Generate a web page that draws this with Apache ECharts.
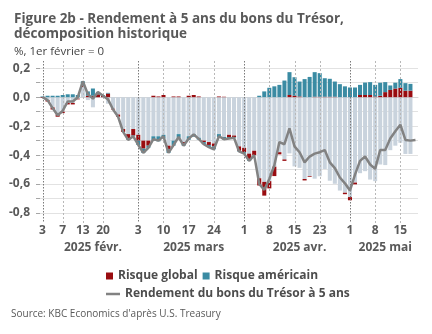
<!DOCTYPE html>
<html>
<head>
<meta charset="utf-8">
<script src="https://cdn.jsdelivr.net/npm/echarts@6/dist/echarts.min.js"></script>
<style>
  html, body { margin: 0; padding: 0; background: #fff; }
  #chart { width: 432px; height: 334px; }
</style>
</head>
<body>
<div id="chart"></div>
<script>
// Trading days (US Treasury market) from 3 Feb to 20 May 2025
const dates = [
  '2025-02-03','2025-02-04','2025-02-05','2025-02-06','2025-02-07',
  '2025-02-10','2025-02-11','2025-02-12','2025-02-13','2025-02-14',
  '2025-02-18','2025-02-19','2025-02-20','2025-02-21',
  '2025-02-24','2025-02-25','2025-02-26','2025-02-27','2025-02-28',
  '2025-03-03','2025-03-04','2025-03-05','2025-03-06','2025-03-07',
  '2025-03-10','2025-03-11','2025-03-12','2025-03-13','2025-03-14',
  '2025-03-17','2025-03-18','2025-03-19','2025-03-20','2025-03-21',
  '2025-03-24','2025-03-25','2025-03-26','2025-03-27','2025-03-28',
  '2025-03-31','2025-04-01','2025-04-02','2025-04-03','2025-04-04',
  '2025-04-07','2025-04-08','2025-04-09','2025-04-10','2025-04-11',
  '2025-04-14','2025-04-15','2025-04-16','2025-04-17',
  '2025-04-21','2025-04-22','2025-04-23','2025-04-24','2025-04-25',
  '2025-04-28','2025-04-29','2025-04-30','2025-05-01','2025-05-02',
  '2025-05-05','2025-05-06','2025-05-07','2025-05-08','2025-05-09',
  '2025-05-12','2025-05-13','2025-05-14','2025-05-15','2025-05-16',
  '2025-05-19','2025-05-20'
];

// Other factors (unlabelled light bars), % points
const autres = [
  0, -0.02, -0.07, -0.12, -0.10, -0.04, -0.04, -0.01, 0.07, -0.02,
  -0.07, 0.0, -0.005, -0.045, -0.08, -0.12, -0.22, -0.255, -0.22,
  -0.26, -0.30, -0.30, -0.27, -0.27, -0.26, -0.335, -0.30, -0.255, -0.31,
  -0.27, -0.255, -0.28, -0.30, -0.31, -0.32, -0.255, -0.275, -0.26, -0.265,
  -0.34, -0.35, -0.39, -0.37, -0.56, -0.585, -0.58, -0.48, -0.38, -0.43,
  -0.388, -0.478, -0.488, -0.565, -0.545, -0.563, -0.546, -0.496, -0.577,
  -0.598, -0.645, -0.66, -0.69, -0.59, -0.525, -0.511, -0.569, -0.58,
  -0.465, -0.469, -0.366, -0.335, -0.315, -0.392, -0.392, null
];

// Global risk component
const risqueGlobal = [
  -0.005, -0.01, -0.015, -0.015, -0.01, -0.01, -0.01, -0.005, 0.015, 0.01,
  0.01, 0.02, 0.01, 0.025, -0.005, -0.015, -0.02, -0.035, -0.045,
  -0.04, -0.055, -0.035, 0.01, 0.005, 0.015, -0.025, 0.005, 0.005, -0.01,
  0.01, 0.015, 0.005, -0.01, -0.02, -0.02, 0.005, 0.003, -0.015, -0.01,
  -0.03, -0.03, -0.04, -0.03, -0.05, -0.095, -0.05, -0.065, -0.015, -0.01,
  0.015, 0.01, 0.005, -0.01, -0.005, 0.003, 0.003, 0.003, 0.003,
  0.003, 0.0, -0.01, -0.022, -0.012, 0.015, 0.015, 0.015, 0.005,
  0.01, 0.035, 0.05, 0.06, 0.065, 0.045, 0.045, null
];

// US-specific risk component
const risqueAmericain = [
  0.005, 0.01, 0.01, 0.01, 0.015, 0.02, 0.02, 0.015, 0.025, 0.03,
  0.05, 0.015, 0.005, 0.005, 0.0, 0.0, 0.0, -0.005, -0.005,
  -0.03, -0.03, -0.015, -0.03, -0.035, -0.025, -0.025, -0.035, -0.025, -0.015,
  -0.025, -0.018, -0.013, -0.015, -0.015, -0.02, -0.02, -0.018, -0.01, -0.005,
  -0.005, -0.01, -0.01, 0.0, 0.01, 0.04, 0.065, 0.075, 0.085, 0.115,
  0.158, 0.128, 0.103, 0.125, 0.14, 0.17, 0.163, 0.128, 0.124,
  0.105, 0.09, 0.075, 0.067, 0.067, 0.07, 0.086, 0.089, 0.08,
  0.09, 0.069, 0.031, 0.04, 0.06, 0.052, 0.047, null
];

// 5-year Treasury yield, change since 1 February
const rendement5a = [
  0.0, -0.02, -0.075, -0.125, -0.095, -0.03, -0.03, 0.0, 0.11, 0.02,
  -0.01, 0.035, 0.01, -0.015, -0.085, -0.135, -0.24, -0.295, -0.27,
  -0.33, -0.385, -0.35, -0.29, -0.30, -0.27, -0.385, -0.33, -0.275, -0.335,
  -0.285, -0.258, -0.288, -0.325, -0.345, -0.36, -0.27, -0.29, -0.285, -0.28,
  -0.375, -0.39, -0.44, -0.40, -0.60, -0.64, -0.565, -0.47, -0.31, -0.325,
  -0.215, -0.34, -0.38, -0.45, -0.41, -0.39, -0.38, -0.365, -0.45,
  -0.49, -0.555, -0.595, -0.645, -0.535, -0.44, -0.41, -0.465, -0.495,
  -0.365, -0.365, -0.285, -0.235, -0.19, -0.295, -0.30, -0.295
];

// Day ticks on the time axis, and the first trading day of each month
const dayTicks = [
  '2025-02-03','2025-02-07','2025-02-13','2025-02-20',
  '2025-03-03','2025-03-10','2025-03-17','2025-03-24',
  '2025-04-01','2025-04-08','2025-04-15','2025-04-23',
  '2025-05-01','2025-05-08','2025-05-15'
];
const monthStarts = ['2025-02-03','2025-03-03','2025-04-01','2025-05-01'];

// Month captions and the day each one is centred on
const monthNames = ['2025 févr.', '2025 mars', '2025 avr.', '2025 mai'];
const monthCentres = ['2025-02-18', '2025-03-18', '2025-04-16', '2025-05-12'];

const yTicks = [-0.8, -0.7, -0.6, -0.5, -0.4, -0.3, -0.2, -0.1, 0, 0.1, 0.2];
const yLabels = [-0.8, -0.6, -0.4, -0.2, 0, 0.2];

const FONT = 'Open Sans';
const TEXT = '#595959';

const chart = echarts.init(document.getElementById('chart'), null, { renderer: 'canvas' });

const gridColors = yTicks.map(() => '#e2e2e2').concat(['rgba(0,0,0,0)']);

// Day rules: one vertical rule per labelled day, positioned through the
// category axis and running from the top of the plot down past the x axis
const ruleData = dayTicks.map(d => [d, monthStarts.includes(d) ? 1 : 0]);

chart.setOption({
  animation: false,
  textStyle: { fontFamily: FONT },
  title: {
    text: 'Figure 2b - Rendement à 5 ans du bons du Trésor,\ndécomposition historique',
    subtext: '%, 1er février = 0',
    left: 9,
    top: 7,
    itemGap: 3,
    textStyle: { fontFamily: FONT, fontSize: 13.5, fontWeight: 'bold', color: TEXT, lineHeight: 15 },
    subtextStyle: { fontFamily: FONT, fontSize: 11.5, color: '#444', lineHeight: 14 }
  },
  legend: [
    {
      data: ['Risque global', 'Risque américain'],
      left: 101, top: 265,
      icon: 'rect', itemWidth: 7, itemHeight: 7, itemGap: 5,
      selectedMode: false,
      textStyle: { fontFamily: FONT, fontSize: 12, fontWeight: 'bold', color: '#4d4d4d' }
    },
    {
      data: ['Rendement du bons du Trésor à 5 ans'],
      left: 101, top: 283,
      icon: 'rect', itemWidth: 14, itemHeight: 2.5,
      selectedMode: false,
      textStyle: { fontFamily: FONT, fontSize: 12, fontWeight: 'bold', color: '#4d4d4d' }
    }
  ],
  grid: { left: 40, right: 14, top: 61, bottom: 121, containLabel: false },
  xAxis: [
    {
      type: 'category',
      data: dates,
      boundaryGap: true,
      axisLine: { show: true, lineStyle: { color: '#d6d6d6', width: 1 } },
      axisTick: { show: false },
      axisLabel: {
        interval: (i, v) => dayTicks.includes(v),
        formatter: v => String(parseInt(v.slice(8), 10)),
        margin: 12,
        fontFamily: FONT, fontSize: 12, fontWeight: 'bold', color: TEXT
      },
      splitLine: { show: false }
    },
    {
      type: 'category',
      data: dates,
      boundaryGap: true,
      position: 'bottom',
      axisLine: { show: false },
      axisTick: { show: false },
      splitLine: { show: false },
      axisLabel: {
        interval: (i, v) => monthCentres.includes(v),
        formatter: v => monthNames[monthCentres.indexOf(v)] || '',
        margin: 29,
        fontFamily: FONT, fontSize: 12, fontWeight: 'bold', color: TEXT
      }
    }
  ],
  yAxis: {
    type: 'value',
    min: -0.8,
    max: 0.25,
    interval: 0.1,
    axisLine: { show: false },
    axisTick: {
      show: true, length: 4,
      customValues: yTicks,
      lineStyle: { color: '#a6a6a6' }
    },
    axisLabel: {
      customValues: yLabels,
      margin: 10,
      fontFamily: FONT, fontSize: 12, fontWeight: 'bold', color: TEXT,
      formatter: v => {
        const r = Math.round(v * 10);
        if (r % 2 !== 0 || v > 0.21) return '';
        return (r / 10).toFixed(1).replace('.', ',');
      }
    },
    splitLine: { show: true, lineStyle: { color: gridColors, width: 1 } }
  },
  series: [
    {
      type: 'custom',
      coordinateSystem: 'cartesian2d',
      silent: true,
      clip: false,
      z: 5,
      data: ruleData,
      encode: { x: 0, y: -1 },
      renderItem: function (params, api) {
        const top = api.coord([api.value(0), 0.25]);
        const bottom = api.coord([api.value(0), -0.8]);
        const x = Math.round(top[0]) + 0.5;
        const isMonth = api.value(1) === 1;
        return {
          type: 'line',
          shape: { x1: x, y1: top[1], x2: x, y2: bottom[1] + 10 },
          style: isMonth
            ? { stroke: '#7a7a7a', lineWidth: 1, lineDash: [1.5, 1.5], fill: null }
            : { stroke: '#b8b8b8', lineWidth: 1, lineDash: [2, 2], fill: null }
        };
      }
    },
    {
      name: 'Autres facteurs',
      type: 'bar',
      stack: 'decomp',
      data: autres,
      barCategoryGap: '20%',
      itemStyle: { color: '#c9d3dd' },
      z: 2
    },
    {
      name: 'Risque global',
      type: 'bar',
      stack: 'decomp',
      data: risqueGlobal,
      itemStyle: { color: '#990c10' },
      z: 2
    },
    {
      name: 'Risque américain',
      type: 'bar',
      stack: 'decomp',
      data: risqueAmericain,
      itemStyle: { color: '#3a8ba3' },
      z: 2
    },
    {
      name: 'Rendement du bons du Trésor à 5 ans',
      type: 'line',
      data: rendement5a,
      color: '#828282',
      symbol: 'none',
      lineStyle: { color: '#828282', width: 2.5 },
      itemStyle: { color: '#828282' },
      z: 6
    }
  ],
  graphic: [
    {
      type: 'text',
      left: 11,
      top: 309,
      style: {
        text: "Source: KBC Economics d'après U.S. Treasury",
        fontFamily: FONT,
        fontSize: 10,
        fill: TEXT
      }
    }
  ]
});
</script>
</body>
</html>
